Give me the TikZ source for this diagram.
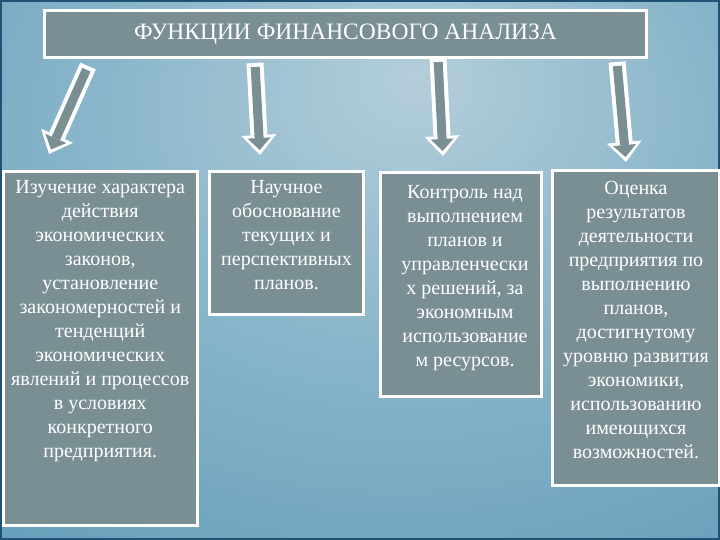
\documentclass[tikz,border=0pt]{standalone}
\usepackage{fontspec}
\setmainfont{Liberation Serif}
\usetikzlibrary{arrows.meta}
\definecolor{bglight}{HTML}{B4CEDA}
\definecolor{bgmid}{HTML}{88B5CA}
\definecolor{bgdark}{HTML}{4C8DAD}
\definecolor{panel}{HTML}{7A8F93}
\definecolor{rimdark}{HTML}{1F5274}
\pgfdeclareradialshading{glow}{\pgfpoint{4bp}{18bp}}{color(0bp)=(bglight); color(22bp)=(bgmid); color(62bp)=(bgdark); color(95bp)=(bgdark)}
\newcommand{\panelpar}[4]{\parbox[t][#2][t]{#1}{\centering\rule{0pt}{#3}#4}}
\begin{document}
\begin{tikzpicture}[x=1pt,y=-1pt,
  box/.style={draw=white,fill=panel,line width=3pt,inner sep=0pt,anchor=north west,text=white,
    font=\fontsize{20}{24}\selectfont},
  rim/.style={draw=white,line width=17pt,-{Triangle[width=35pt,length=20pt,line width=0pt]}},
  core/.style={draw=panel,line width=9pt,shorten <=4pt,shorten >=5pt,-{Triangle[width=23pt,length=12pt,line width=0pt]}}]
\useasboundingbox (0,0) rectangle (720,540);
\shade[shading=glow] (0,0) rectangle (720,540);
\draw[rimdark,line width=2pt] (1,1) rectangle (719,539);

\node[box,font=\fontsize{23.5}{26}\selectfont,minimum width=602pt,minimum height=46.5pt] (title) at (43,9.5) {ФУНКЦИИ ФИНАНСОВОГО АНАЛИЗА};

\node[box] (f1) at (1.5,170) {\panelpar{194.5pt}{354pt}{22pt}{Изучение характера\\ действия\\ экономических\\ законов,\\ установление\\ закономерностей и\\ тенденций\\ экономических\\ явлений и процессов\\ в условиях\\ конкретного\\ предприятия.}};
\node[box] (f2) at (208,170) {\panelpar{154pt}{142.5pt}{22pt}{Научное\\ обоснование\\ текущих и\\ перспективных\\ планов.}};
\node[box] (f3) at (379,171) {\panelpar{161pt}{224pt}{26pt}{\hspace*{8pt}Контроль над\\ \hspace*{8pt}выполнением\\ \hspace*{8pt}планов и\\ \hspace*{8pt}управленчески\\ \hspace*{8pt}х решений, за\\ \hspace*{8pt}экономным\\ \hspace*{8pt}использование\\ \hspace*{8pt}м ресурсов.}};
\node[box] (f4) at (551,169.5) {\panelpar{167pt}{314.5pt}{23.5pt}{Оценка\\ результатов\\ деятельности\\ предприятия по\\ выполнению\\ планов,\\ достигнутому\\ уровню развития\\ экономики,\\ использованию\\ имеющихся\\ возможностей.}};

\coordinate (t1) at (88,66);
\coordinate (h1) at (49,154);
\coordinate (t2) at (255,63);
\coordinate (h2) at (260,155);
\coordinate (t3) at (438,58);
\coordinate (h3) at (443,156);
\coordinate (t4) at (617,62);
\coordinate (h4) at (626,162);

\draw[rim] (t1) -- (h1);
\draw[core] (t1) -- (h1);
\draw[rim] (t2) -- (h2);
\draw[core] (t2) -- (h2);
\draw[rim] (t3) -- (h3);
\draw[core] (t3) -- (h3);
\draw[rim] (t4) -- (h4);
\draw[core] (t4) -- (h4);
\end{tikzpicture}
\end{document}
